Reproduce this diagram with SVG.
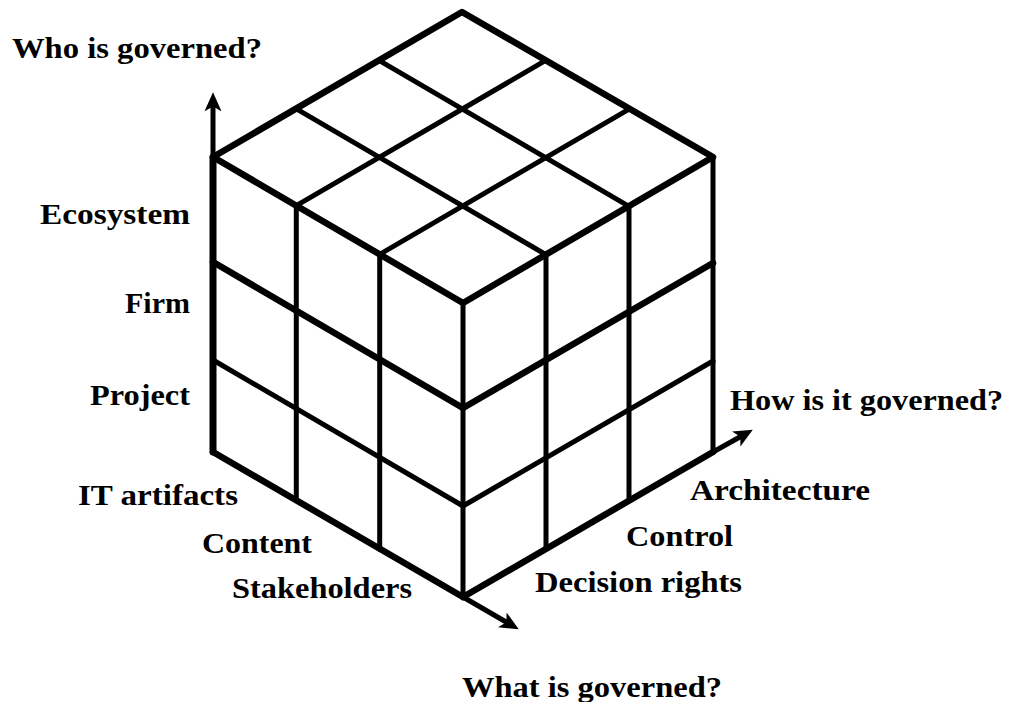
<svg xmlns="http://www.w3.org/2000/svg" width="1011" height="702" viewBox="0 0 1011 702">
<style>
.edge{stroke:#000;stroke-width:6.5;fill:none;stroke-linejoin:round;stroke-linecap:round}
.grid{stroke:#000;stroke-width:5;fill:none;stroke-linecap:round}
.axis{stroke:#000;stroke-width:5;fill:none}
.lbl{font-family:"Liberation Serif","Times New Roman",serif;font-weight:bold;font-size:30px;fill:#000}
</style>
<defs>
<marker id="ah" viewBox="0 0 20 20" refX="13" refY="10" markerWidth="19" markerHeight="19" markerUnits="userSpaceOnUse" orient="auto">
<path d="M0,1 L20,10 L0,19 L5,10 z" fill="#000"/>
</marker>
</defs>
<rect width="1011" height="702" fill="#fff"/>
<g id="cube">
<g id="top-face">
<line class="grid" x1="296.3" y1="205.7" x2="545.3" y2="60.7"/>
<line class="grid" x1="379.7" y1="254.3" x2="628.7" y2="109.3"/>
<line class="grid" x1="296" y1="108.7" x2="546" y2="254.7"/>
<line class="grid" x1="379" y1="60.3" x2="629" y2="206.3"/>
</g>
<g id="left-face">
<line class="grid" x1="296.3" y1="205.7" x2="296.3" y2="500.3"/>
<line class="grid" x1="379.7" y1="254.3" x2="379.7" y2="549.3"/>
<line class="edge" x1="213" y1="262" x2="463" y2="408"/>
<line class="grid" x1="213" y1="360" x2="463" y2="506"/>
</g>
<g id="right-face">
<line class="grid" x1="546" y1="254.7" x2="546" y2="548.7"/>
<line class="grid" x1="629" y1="206.3" x2="629" y2="500.3"/>
<line class="edge" x1="463" y1="408" x2="713" y2="263"/>
<line class="grid" x1="463" y1="506" x2="713" y2="361"/>
</g>
<g id="outline">
<polygon class="edge" points="213,157 462,12 713,157 463,303"/>
<line class="grid" x1="463" y1="303" x2="463" y2="597"/>
<line class="grid" x1="713" y1="157" x2="713" y2="452"/>
<line class="edge" x1="213" y1="452" x2="463" y2="597"/>
<line class="edge" x1="463" y1="597" x2="713" y2="452"/>
<line class="edge" x1="213" y1="157" x2="213" y2="452" style="stroke-width:7"/>
</g>
</g>
<g id="connectors">
<line class="axis" x1="213" y1="157" x2="213" y2="99" marker-end="url(#ah)"/>
<line class="axis" x1="463" y1="597" x2="513" y2="626" marker-end="url(#ah)"/>
<line class="axis" x1="713" y1="452" x2="747" y2="433" marker-end="url(#ah)"/>
</g>
<g id="labels">
<text class="lbl" x="12" y="58" textLength="250" lengthAdjust="spacingAndGlyphs">Who is governed?</text>
<text class="lbl" x="40" y="224" textLength="150" lengthAdjust="spacingAndGlyphs">Ecosystem</text>
<text class="lbl" x="190" y="313" text-anchor="end">Firm</text>
<text class="lbl" x="90" y="405" textLength="100" lengthAdjust="spacingAndGlyphs">Project</text>
<text class="lbl" x="78" y="505" textLength="160" lengthAdjust="spacingAndGlyphs">IT artifacts</text>
<text class="lbl" x="202" y="553" textLength="110" lengthAdjust="spacingAndGlyphs">Content</text>
<text class="lbl" x="232" y="598" textLength="180" lengthAdjust="spacingAndGlyphs">Stakeholders</text>
<text class="lbl" x="730" y="410" textLength="273" lengthAdjust="spacingAndGlyphs">How is it governed?</text>
<text class="lbl" x="690" y="500" textLength="180" lengthAdjust="spacingAndGlyphs">Architecture</text>
<text class="lbl" x="626" y="546" textLength="107" lengthAdjust="spacingAndGlyphs">Control</text>
<text class="lbl" x="535" y="592" textLength="207" lengthAdjust="spacingAndGlyphs">Decision rights</text>
<text class="lbl" x="462" y="697" textLength="260" lengthAdjust="spacingAndGlyphs">What is governed?</text>
</g>
</svg>
